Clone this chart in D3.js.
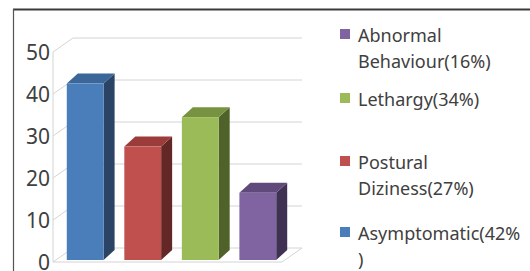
<!DOCTYPE html>
<html>
<head>
<meta charset="utf-8">
<script src="https://cdn.jsdelivr.net/npm/d3@7"></script>
<style>
  body { margin: 0; background: #fff; }
  svg { display: block; font-family: "Noto Sans", sans-serif; }
</style>
</head>
<body>
<script>
// Chart data
const categories = ["Asymptomatic", "Postural Diziness", "Lethargy", "Abnormal Behaviour"];
const values = [42, 27, 34, 16];
const yTicks = [0, 10, 20, 30, 40, 50];

// Legend (drawn in reverse order, text wrapped as in the original)
const legendKeys = ["Abnormal Behaviour", "Lethargy", "Postural Diziness", "Asymptomatic"];
const legendLines = [
    ["Abnormal", "Behaviour(16%)"],
    ["Lethargy(34%)"],
    ["Postural", "Diziness(27%)"],
    ["Asymptomatic(42%", ")"]
];

// Colours per category: front, side, top
const palette = {
    "Asymptomatic":       { front: "#4a7ebb", side: "#2b4466", top: "#3b669a" },
    "Postural Diziness":  { front: "#c0504d", side: "#632726", top: "#9b3c3a" },
    "Lethargy":           { front: "#9bbb59", side: "#4f6229", top: "#779340" },
    "Abnormal Behaviour": { front: "#8064a2", side: "#3f3152", top: "#5f4a7b" }
};

const width = 530, height = 271;

// front plane of the chart box and its depth offset
const front = { left: 53, right: 282, bottom: 262, top: 52 };
const depth = { dx: 20, dy: -14 };
// bars sit slightly behind the front plane and have their own depth
const barOff = { dx: 0, dy: -2 };
const barDepth = { dx: 11, dy: -10 };

const svg = d3.select("body")
    .append("svg")
    .attr("width", width)
    .attr("height", height);

// Outer frame (only top and left edges are visible)
svg.append("line")
    .attr("x1", 13).attr("x2", width).attr("y1", 9.5).attr("y2", 9.5)
    .attr("stroke", "#3a3a3a").attr("stroke-width", 2);
svg.append("line")
    .attr("x1", 13.5).attr("x2", 13.5).attr("y1", 9).attr("y2", height)
    .attr("stroke", "#555").attr("stroke-width", 1.2);

const y = d3.scaleLinear()
    .domain([0, 50])
    .range([front.bottom, front.top]);

const x = d3.scaleBand()
    .domain(categories)
    .range([57, 286])
    .paddingInner(0.36)
    .paddingOuter(0.17);

const grid = svg.append("g")
    .attr("stroke", "#d4d4d4")
    .attr("stroke-width", 1)
    .attr("fill", "none");

// back wall gridlines and side wall diagonals
yTicks.forEach(function(t) {
    const yf = y(t);
    grid.append("path")
        .attr("d", "M" + front.left + "," + yf +
            "L" + (front.left + depth.dx) + "," + (yf + depth.dy) +
            "L" + (front.right + depth.dx) + "," + (yf + depth.dy));
});
// left front edge of the side wall
grid.append("line")
    .attr("x1", front.left).attr("x2", front.left)
    .attr("y1", y(50)).attr("y2", y(0));
// floor front edge and right edge
grid.append("path")
    .attr("d", "M" + front.left + "," + y(0) +
        "L" + front.right + "," + y(0) +
        "L" + (front.right + depth.dx) + "," + (y(0) + depth.dy));

// Y axis tick labels
svg.append("g")
    .selectAll("text")
    .data(yTicks)
    .enter().append("text")
    .attr("x", 50)
    .attr("y", d => y(d))
    .attr("dy", "0.38em")
    .attr("text-anchor", "end")
    .attr("font-size", 21)
    .attr("fill", "#404040")
    .text(d => d);

// 3D bars
const barY = d3.scaleLinear()
    .domain([0, 50])
    .range([front.bottom + barOff.dy, front.top + barOff.dy]);

const bars = svg.append("g")
    .selectAll("g")
    .data(categories.map((c, i) => ({ cat: c, value: values[i] })))
    .enter().append("g");

bars.append("path")
    .attr("fill", d => palette[d.cat].side)
    .attr("d", function(d) {
        const x1 = x(d.cat) + x.bandwidth() + barOff.dx;
        const y0 = barY(0), y1 = barY(d.value);
        return "M" + x1 + "," + y0 + "L" + x1 + "," + y1 +
            "L" + (x1 + barDepth.dx) + "," + (y1 + barDepth.dy) +
            "L" + (x1 + barDepth.dx) + "," + (y0 + barDepth.dy) + "Z";
    });

bars.append("path")
    .attr("fill", d => palette[d.cat].top)
    .attr("d", function(d) {
        const x0 = x(d.cat) + barOff.dx, x1 = x0 + x.bandwidth();
        const y1 = barY(d.value);
        return "M" + x0 + "," + y1 + "L" + x1 + "," + y1 +
            "L" + (x1 + barDepth.dx) + "," + (y1 + barDepth.dy) +
            "L" + (x0 + barDepth.dx) + "," + (y1 + barDepth.dy) + "Z";
    });

bars.append("rect")
    .attr("fill", d => palette[d.cat].front)
    .attr("x", d => x(d.cat) + barOff.dx)
    .attr("y", d => barY(d.value))
    .attr("width", x.bandwidth())
    .attr("height", d => barY(0) - barY(d.value));

// Legend
const legendTop = [42, 106, 169, 240];
const lineHeight = 25.5;

const legend = svg.append("g")
    .selectAll("g")
    .data(legendKeys.map((k, i) => ({ key: k, lines: legendLines[i], base: legendTop[i] })))
    .enter().append("g");

legend.append("rect")
    .attr("x", 340)
    .attr("y", d => d.base - 13)
    .attr("width", 10)
    .attr("height", 10)
    .attr("fill", d => palette[d.key].front);

legend.append("text")
    .attr("font-size", 18)
    .attr("fill", "#404040")
    .selectAll("tspan")
    .data(d => d.lines.map((l, j) => ({ text: l, y: d.base + j * lineHeight })))
    .enter().append("tspan")
    .attr("x", 358)
    .attr("y", d => d.y)
    .text(d => d.text);
</script>
</body>
</html>
